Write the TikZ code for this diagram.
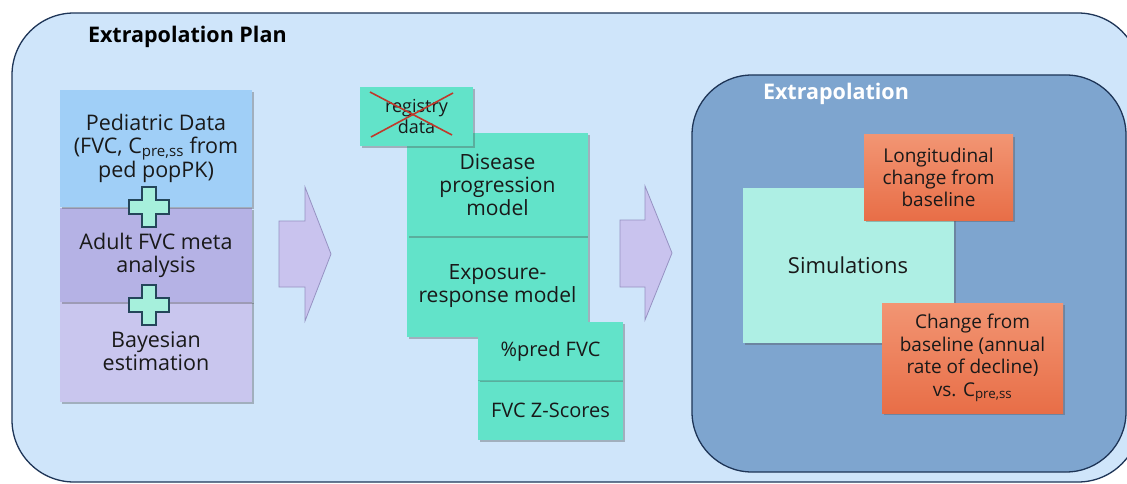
\documentclass[tikz,border=0pt]{standalone}
\usepackage{fontspec}
\setmainfont{Open Sans}
\usetikzlibrary{shadows}
\definecolor{outerfill}{HTML}{CFE5FA}
\definecolor{navy}{HTML}{1E3557}
\definecolor{pedblue}{HTML}{A0CFF7}
\definecolor{lavA}{HTML}{B5B2E5}
\definecolor{lavB}{HTML}{C9C6EE}
\definecolor{teal}{HTML}{62E3C9}
\definecolor{simfill}{HTML}{AEEFE4}
\definecolor{innerfill}{HTML}{7EA5CF}
\definecolor{arrfill}{HTML}{C9C3EE}
\definecolor{arrdraw}{HTML}{9692C2}
\definecolor{orangeT}{HTML}{F29573}
\definecolor{orangeB}{HTML}{E86E47}
\definecolor{crossred}{HTML}{C0392B}
\definecolor{plusdraw}{HTML}{24465A}
\definecolor{plusfill}{HTML}{A6F0DC}
\begin{document}
\begin{tikzpicture}[x=1pt,y=-1pt,
  every node/.style={inner sep=0pt, outer sep=0pt},
  sh/.style={drop shadow={shadow xshift=2pt,shadow yshift=-2pt,opacity=0.35,fill=black!70}},
  boxtxt/.style={align=center, font=\fontsize{21}{23}\selectfont, text=black!90},
  stackbox/.style={rectangle, sh, boxtxt, font=\fontsize{21.5}{23}\selectfont},
  tealbox/.style={rectangle, fill=teal, sh, boxtxt},
  orangebox/.style={rectangle, top color=orangeT, bottom color=orangeB, sh, boxtxt},
  plussign/.style={draw=plusdraw, fill=plusfill, line width=1.2pt},
  bigarrow/.style={draw=arrdraw, fill=arrfill, line width=0.8pt},
  titletxt/.style={font=\fontsize{21.5}{24}\selectfont\bfseries}
]
\useasboundingbox (0,0) rectangle (1127,484);
\fill[white] (0,0) rectangle (1127,484);
% outer container
\draw[fill=outerfill, draw=navy, line width=1.3pt, rounded corners=62pt] (12,13) rectangle (1140,482);
\node[titletxt, anchor=west] (plan) at (88,37) {Extrapolation Plan};

% left stack
\node[stackbox, fill=lavB, minimum width=192, minimum height=101] (bayes) at (156,351.5) {Bayesian\\estimation};
\node[stackbox, fill=lavA, minimum width=192, minimum height=94] (adult) at (156,255) {Adult FVC meta\\analysis};
\node[stackbox, fill=pedblue, minimum width=192, minimum height=117] (ped) at (156,148.5) {Pediatric Data\\(FVC, C\textsubscript{pre,ss} from\\ped popPK)};
\foreach \cy in {207,305}{
  \draw[plussign] (149,\cy) ++(-7,-20) -- ++(14,0) -- ++(0,13) -- ++(13,0) -- ++(0,14) -- ++(-13,0) -- ++(0,13) -- ++(-14,0) -- ++(0,-13) -- ++(-13,0) -- ++(0,-14) -- ++(13,0) -- cycle;
}

% arrow 1
\draw[bigarrow] (279,221) -- (305,221) -- (305,187) -- (331,254) -- (305,321) -- (305,287) -- (279,287) -- cycle;

% middle column
\node[tealbox, minimum width=181, minimum height=101] (expo) at (497.5,286.5) {Exposure-\\response model};
\node[tealbox, minimum width=181, minimum height=103] (dis) at (497.5,184.5) {Disease\\progression\\model};
\node[tealbox, minimum width=113, minimum height=59, font=\fontsize{18}{20.5}\selectfont] (reg) at (416.5,116.5) {registry\\data};
\draw[crossred, line width=1.6pt] (370,92) -- (452,135);
\draw[crossred, line width=1.6pt] (453,93) -- (371,137);
\node[tealbox, minimum width=145, minimum height=60, font=\fontsize{20}{22}\selectfont] (zs) at (550.5,410) {FVC Z-Scores};
\node[tealbox, minimum width=145, minimum height=58, font=\fontsize{20}{22}\selectfont] (pred) at (550.5,351) {\%pred FVC};
\draw[teal!85!black, line width=0.4pt] (pred.south west) -- (pred.south east);

% arrow 2
\draw[bigarrow] (620,220) -- (645,220) -- (645,186) -- (672,253) -- (645,320) -- (645,287) -- (620,287) -- cycle;

% extrapolation container
\draw[fill=innerfill, draw=navy, line width=1.3pt, rounded corners=60pt] (692,75) rectangle (1126,472);
\node[titletxt, text=white, anchor=west] (extra) at (763,94) {Extrapolation};
\node[rectangle, fill=simfill, sh, boxtxt, minimum width=211, minimum height=155] (sim) at (848.5,265.5) {};
\node[boxtxt, font=\fontsize{22}{24}\selectfont] (simtxt) at (848,265) {Simulations};
\node[orangebox, minimum width=149, minimum height=85, font=\fontsize{19}{22}\selectfont] (long) at (938.5,177.5) {Longitudinal\\change from\\baseline};
\node[orangebox, minimum width=181, minimum height=110, font=\fontsize{19}{22.5}\selectfont] (chg) at (972.5,358) {Change from\\baseline (annual\\rate of decline)\\vs. C\textsubscript{pre,ss}};
\end{tikzpicture}
\end{document}
